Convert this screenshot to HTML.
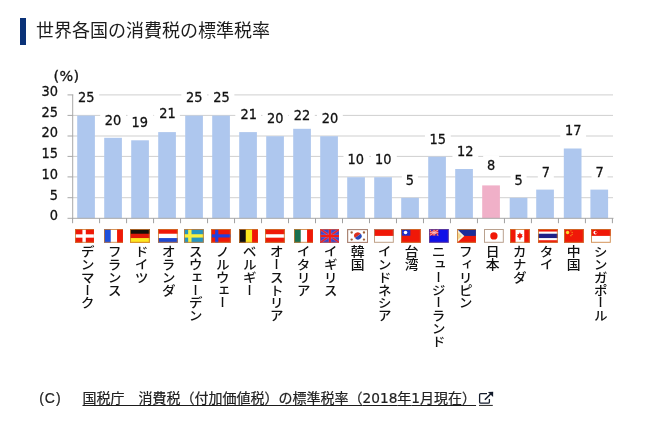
<!DOCTYPE html>
<html lang="ja">
<head>
<meta charset="utf-8">
<title>世界各国の消費税の標準税率</title>
<style>
html,body{margin:0;padding:0;background:#fff;}
body{width:657px;height:426px;position:relative;overflow:hidden;font-family:"Liberation Sans","Noto Sans CJK JP",sans-serif;color:#222;}
.hbar{position:absolute;left:20px;top:18px;width:6px;height:26.6px;background:#0a3278;}
h1{position:absolute;left:36px;top:17.8px;margin:0;font-size:18px;line-height:26px;font-weight:400;color:#1c1c1c;white-space:nowrap;letter-spacing:0;}
.chart{position:absolute;left:0;top:0;width:657px;height:426px;}
.num{position:absolute;font-family:"DejaVu Sans","Liberation Sans",sans-serif;font-size:14.4px;line-height:14px;color:#111;white-space:nowrap;-webkit-text-stroke:0.3px #111;}
.dl.s{padding-left:4px;padding-right:4px;}
.yl{text-align:right;width:30px;transform:scaleX(0.9);transform-origin:100% 50%;}
.dl{text-align:center;background:#fff;padding:2px 5.5px 0.5px;transform:translateX(-50%) scaleX(0.925);}
.fl{position:absolute;display:block;}
.vl{position:absolute;writing-mode:vertical-rl;font-size:12.8px;line-height:14px;width:14px;color:#111;font-weight:500;transform:scaleX(1.08);transform-origin:50% 0;white-space:nowrap;font-family:"Liberation Sans","Noto Sans CJK JP",sans-serif;}
.cap{position:absolute;top:388.3px;font-size:14px;line-height:20px;color:#1c1c1c;white-space:nowrap;-webkit-text-stroke:0.2px #1c1c1c;}
.cap a{color:#222;text-decoration:underline;text-underline-offset:1.6px;text-decoration-thickness:1px;}
.cap .d{font-family:"DejaVu Sans",sans-serif;font-size:13.7px;}
.ext{position:absolute;left:478px;top:390px;width:16px;height:17px;}
</style>
</head>
<body>
<div class="hbar"></div>
<h1>世界各国の消費税の標準税率</h1>

<svg class="chart" viewBox="0 0 657 426"><rect x="73.0" y="94.4" width="540" height="1" fill="#d0d0d0"/><rect x="73.0" y="114.9" width="540" height="1" fill="#d0d0d0"/><rect x="73.0" y="135.5" width="540" height="1" fill="#d0d0d0"/><rect x="73.0" y="155.9" width="540" height="1" fill="#d0d0d0"/><rect x="73.0" y="176.4" width="540" height="1" fill="#d0d0d0"/><rect x="73.0" y="197.2" width="540" height="1" fill="#d0d0d0"/></svg>
<svg class="chart" viewBox="0 0 657 426" font-family="DejaVu Sans, Liberation Sans, sans-serif" font-size="14.4" fill="#111" stroke="#111" stroke-width="0.3" text-anchor="middle"><rect x="73.40" y="87.5" width="25.8" height="17" fill="#fff" stroke="none"/><rect x="100.20" y="110.5" width="25.8" height="17" fill="#fff" stroke="none"/><rect x="127.50" y="112.5" width="25.8" height="17" fill="#fff" stroke="none"/><rect x="154.10" y="103.5" width="25.8" height="17" fill="#fff" stroke="none"/><rect x="181.30" y="87.5" width="25.8" height="17" fill="#fff" stroke="none"/><rect x="208.55" y="87.5" width="25.8" height="17" fill="#fff" stroke="none"/><rect x="235.30" y="104.5" width="25.8" height="17" fill="#fff" stroke="none"/><rect x="262.40" y="108.5" width="25.8" height="17" fill="#fff" stroke="none"/><rect x="289.00" y="105.5" width="25.8" height="17" fill="#fff" stroke="none"/><rect x="317.00" y="108.5" width="25.8" height="17" fill="#fff" stroke="none"/><rect x="343.50" y="149.5" width="25.8" height="17" fill="#fff" stroke="none"/><rect x="371.00" y="149.5" width="25.8" height="17" fill="#fff" stroke="none"/><rect x="401.90" y="170.5" width="16.0" height="17" fill="#fff" stroke="none"/><rect x="424.95" y="129.5" width="25.8" height="17" fill="#fff" stroke="none"/><rect x="452.45" y="141.5" width="25.8" height="17" fill="#fff" stroke="none"/><rect x="483.15" y="155.5" width="16.0" height="17" fill="#fff" stroke="none"/><rect x="510.60" y="170.5" width="16.0" height="17" fill="#fff" stroke="none"/><rect x="537.80" y="162.5" width="16.0" height="17" fill="#fff" stroke="none"/><rect x="560.25" y="120.5" width="25.8" height="17" fill="#fff" stroke="none"/><rect x="591.55" y="162.5" width="16.0" height="17" fill="#fff" stroke="none"/><text transform="translate(86.30,102) scale(0.9,1)">25</text><text transform="translate(113.10,125) scale(0.9,1)">20</text><text transform="translate(139.85,127) scale(0.9,1)">19</text><text transform="translate(167.60,118) scale(0.9,1)">21</text><text transform="translate(194.20,102) scale(0.9,1)">25</text><text transform="translate(221.45,102) scale(0.9,1)">25</text><text transform="translate(248.80,119) scale(0.9,1)">21</text><text transform="translate(275.30,123) scale(0.9,1)">20</text><text transform="translate(301.90,120) scale(0.9,1)">22</text><text transform="translate(329.90,123) scale(0.9,1)">20</text><text transform="translate(355.85,164) scale(0.9,1)">10</text><text transform="translate(383.35,164) scale(0.9,1)">10</text><text transform="translate(409.90,185) scale(0.9,1)">5</text><text transform="translate(437.85,144) scale(0.9,1)">15</text><text transform="translate(465.35,156) scale(0.9,1)">12</text><text transform="translate(491.15,170) scale(0.9,1)">8</text><text transform="translate(518.60,185) scale(0.9,1)">5</text><text transform="translate(545.80,177) scale(0.9,1)">7</text><text transform="translate(573.15,135) scale(0.9,1)">17</text><text transform="translate(599.55,177) scale(0.9,1)">7</text></svg>
<svg class="chart" viewBox="0 0 657 426"><rect x="77.2" y="115.6" width="17.7" height="102.7" fill="#aec7ee"/><rect x="104.2" y="137.8" width="17.7" height="80.5" fill="#aec7ee"/><rect x="131.2" y="140.3" width="17.7" height="78.0" fill="#aec7ee"/><rect x="158.2" y="132.1" width="17.7" height="86.2" fill="#aec7ee"/><rect x="185.2" y="115.6" width="17.7" height="102.7" fill="#aec7ee"/><rect x="212.2" y="115.6" width="17.7" height="102.7" fill="#aec7ee"/><rect x="239.2" y="132.1" width="17.7" height="86.2" fill="#aec7ee"/><rect x="266.2" y="136.2" width="17.7" height="82.1" fill="#aec7ee"/><rect x="293.2" y="128.8" width="17.7" height="89.5" fill="#aec7ee"/><rect x="320.2" y="136.2" width="17.7" height="82.1" fill="#aec7ee"/><rect x="347.2" y="177.2" width="17.7" height="41.1" fill="#aec7ee"/><rect x="374.2" y="177.2" width="17.7" height="41.1" fill="#aec7ee"/><rect x="401.2" y="197.8" width="17.7" height="20.5" fill="#aec7ee"/><rect x="428.2" y="156.7" width="17.7" height="61.6" fill="#aec7ee"/><rect x="455.2" y="169.0" width="17.7" height="49.3" fill="#aec7ee"/><rect x="482.2" y="185.4" width="17.7" height="32.9" fill="#f0b0c8"/><rect x="509.7" y="197.8" width="17.7" height="20.5" fill="#aec7ee"/><rect x="536.2" y="189.6" width="17.7" height="28.7" fill="#aec7ee"/><rect x="563.8" y="148.5" width="17.7" height="69.8" fill="#aec7ee"/><rect x="590.4" y="189.6" width="17.7" height="28.7" fill="#aec7ee"/><rect x="72.2" y="94.6" width="1" height="124.20000000000002" fill="#a8a8a8"/><rect x="72.5" y="217.8" width="541" height="1" fill="#a8a8a8"/><rect x="67.5" y="94.4" width="5.5" height="1" fill="#a8a8a8"/><rect x="67.5" y="114.9" width="5.5" height="1" fill="#a8a8a8"/><rect x="67.5" y="135.5" width="5.5" height="1" fill="#a8a8a8"/><rect x="67.5" y="155.9" width="5.5" height="1" fill="#a8a8a8"/><rect x="67.5" y="176.4" width="5.5" height="1" fill="#a8a8a8"/><rect x="67.5" y="197.2" width="5.5" height="1" fill="#a8a8a8"/><rect x="67.5" y="217.8" width="5.5" height="1" fill="#a8a8a8"/><rect x="72.10" y="218.3" width="1" height="4.9" fill="#a0a0a0"/><rect x="99.09" y="218.3" width="1" height="4.9" fill="#a0a0a0"/><rect x="126.08" y="218.3" width="1" height="4.9" fill="#a0a0a0"/><rect x="153.07" y="218.3" width="1" height="4.9" fill="#a0a0a0"/><rect x="180.06" y="218.3" width="1" height="4.9" fill="#a0a0a0"/><rect x="207.05" y="218.3" width="1" height="4.9" fill="#a0a0a0"/><rect x="234.04" y="218.3" width="1" height="4.9" fill="#a0a0a0"/><rect x="261.03" y="218.3" width="1" height="4.9" fill="#a0a0a0"/><rect x="288.02" y="218.3" width="1" height="4.9" fill="#a0a0a0"/><rect x="315.01" y="218.3" width="1" height="4.9" fill="#a0a0a0"/><rect x="342.00" y="218.3" width="1" height="4.9" fill="#a0a0a0"/><rect x="368.99" y="218.3" width="1" height="4.9" fill="#a0a0a0"/><rect x="395.98" y="218.3" width="1" height="4.9" fill="#a0a0a0"/><rect x="422.97" y="218.3" width="1" height="4.9" fill="#a0a0a0"/><rect x="449.96" y="218.3" width="1" height="4.9" fill="#a0a0a0"/><rect x="476.95" y="218.3" width="1" height="4.9" fill="#a0a0a0"/><rect x="503.94" y="218.3" width="1" height="4.9" fill="#a0a0a0"/><rect x="530.93" y="218.3" width="1" height="4.9" fill="#a0a0a0"/><rect x="557.92" y="218.3" width="1" height="4.9" fill="#a0a0a0"/><rect x="584.91" y="218.3" width="1" height="4.9" fill="#a0a0a0"/><rect x="611.90" y="218.3" width="1" height="4.9" fill="#a0a0a0"/></svg>
<div class="num yl" style="left:27.6px;top:83.80px">30</div>
<div class="num yl" style="left:27.6px;top:104.56px">25</div>
<div class="num yl" style="left:27.6px;top:125.32px">20</div>
<div class="num yl" style="left:27.6px;top:146.08px">15</div>
<div class="num yl" style="left:27.6px;top:166.84px">10</div>
<div class="num yl" style="left:27.6px;top:187.60px">5</div>
<div class="num yl" style="left:27.6px;top:208.36px">0</div>
<div class="num" style="left:53.5px;top:69.2px;letter-spacing:0.3px">(%)</div>
<svg class="fl" style="left:74.7px;top:229.0px;width:19.8px;height:13.8px" viewBox="0 0 20 14" preserveAspectRatio="none"><rect width="20" height="14" fill="#f01808"/><rect x="7.5" y="0" width="3.4" height="14" fill="#fff"/><rect x="0" y="5.4" width="20" height="3.4" fill="#fff"/><rect x="0.5" y="0.5" width="19" height="13" fill="none" stroke="#c8782e" stroke-width="1" opacity="0.8"/></svg>
<svg class="fl" style="left:103.5px;top:229.0px;width:19.8px;height:13.8px" viewBox="0 0 20 14" preserveAspectRatio="none"><rect width="20" height="14" fill="#fff"/><rect width="6.8" height="14" fill="#1e50dc"/><rect x="13.2" width="6.8" height="14" fill="#f01808"/><rect x="0.5" y="0.5" width="19" height="13" fill="none" stroke="#c8782e" stroke-width="1" opacity="0.8"/></svg>
<svg class="fl" style="left:130.10000000000002px;top:229.0px;width:19.8px;height:13.8px" viewBox="0 0 20 14" preserveAspectRatio="none"><rect width="20" height="14" fill="#e01808"/><rect width="20" height="4.8" fill="#181008"/><rect y="9.2" width="20" height="4.8" fill="#ffe820"/><rect x="0.5" y="0.5" width="19" height="13" fill="none" stroke="#c8782e" stroke-width="1" opacity="0.8"/></svg>
<svg class="fl" style="left:158.10000000000002px;top:229.0px;width:19.8px;height:13.8px" viewBox="0 0 20 14" preserveAspectRatio="none"><rect width="20" height="14" fill="#fff"/><rect width="20" height="4.8" fill="#f01808"/><rect y="9.2" width="20" height="4.8" fill="#2048d0"/><rect x="0.5" y="0.5" width="19" height="13" fill="none" stroke="#c8782e" stroke-width="1" opacity="0.8"/></svg>
<svg class="fl" style="left:183.9px;top:229.0px;width:19.8px;height:13.8px" viewBox="0 0 20 14" preserveAspectRatio="none"><rect width="20" height="14" fill="#2896c0"/><rect x="4.2" width="3.4" height="14" fill="#f8f040"/><rect y="5.3" width="20" height="3.4" fill="#f8f040"/><rect x="0.5" y="0.5" width="19" height="13" fill="none" stroke="#c8782e" stroke-width="1" opacity="0.8"/></svg>
<svg class="fl" style="left:211.10000000000002px;top:229.0px;width:19.8px;height:13.8px" viewBox="0 0 20 14" preserveAspectRatio="none"><rect width="20" height="14" fill="#f01808"/><rect x="4.2" width="3.2" height="14" fill="#2040e0"/><rect y="5.4" width="20" height="3.2" fill="#2040e0"/><rect x="0.5" y="0.5" width="19" height="13" fill="none" stroke="#c8782e" stroke-width="1" opacity="0.8"/></svg>
<svg class="fl" style="left:238.5px;top:229.0px;width:19.8px;height:13.8px" viewBox="0 0 20 14" preserveAspectRatio="none"><rect width="20" height="14" fill="#f8e820"/><rect width="6.8" height="14" fill="#101010"/><rect x="13.2" width="6.8" height="14" fill="#f01808"/><rect x="0.5" y="0.5" width="19" height="13" fill="none" stroke="#c8782e" stroke-width="1" opacity="0.8"/></svg>
<svg class="fl" style="left:265.3px;top:229.0px;width:19.8px;height:13.8px" viewBox="0 0 20 14" preserveAspectRatio="none"><rect width="20" height="14" fill="#f01808"/><rect y="5.3" width="20" height="3.5" fill="#fff"/><rect x="0.5" y="0.5" width="19" height="13" fill="none" stroke="#c8782e" stroke-width="1" opacity="0.8"/></svg>
<svg class="fl" style="left:293.5px;top:229.0px;width:19.8px;height:13.8px" viewBox="0 0 20 14" preserveAspectRatio="none"><rect width="20" height="14" fill="#fff"/><rect width="6.8" height="14" fill="#187050"/><rect x="13.2" width="6.8" height="14" fill="#f01808"/><rect x="0.5" y="0.5" width="19" height="13" fill="none" stroke="#c8782e" stroke-width="1" opacity="0.8"/></svg>
<svg class="fl" style="left:319.59999999999997px;top:229.0px;width:19.8px;height:13.8px" viewBox="0 0 20 14" preserveAspectRatio="none"><rect width="20" height="14" fill="#3c48c8"/><path d="M0 0L20 14M20 0L0 14" stroke="#c070b0" stroke-width="2.6" opacity="0.55"/><path d="M0 0L20 14M20 0L0 14" stroke="#f02020" stroke-width="1.4"/><path d="M10 0V14M0 7H20" stroke="#d080b0" stroke-width="3" opacity="0.45"/><path d="M10 0V14M0 7H20" stroke="#f41c14" stroke-width="2"/><rect x="0.5" y="0.5" width="19" height="13" fill="none" stroke="#d05040" stroke-width="1" opacity="0.8"/></svg>
<svg class="fl" style="left:346.75px;top:228.9px;width:21.2px;height:14.0px" viewBox="0 0 20 14" preserveAspectRatio="none"><rect width="20" height="14" fill="#fff"/><path d="M6.8 7A3.5 3.6 0 0 1 13.8 7Z" fill="#dc3020" transform="rotate(-38 10.2 7)"/><path d="M6.8 7A3.5 3.6 0 0 0 13.8 7Z" fill="#2848b8" transform="rotate(-38 10.2 7)"/><g fill="#a06038"><circle cx="4.4" cy="3.5" r="1.15"/><circle cx="16" cy="3.5" r="1.15"/><circle cx="4.4" cy="10.6" r="1.15"/><circle cx="16" cy="10.6" r="1.15"/></g><rect x="0.6" y="0.6" width="18.8" height="12.8" fill="none" stroke="#a88070" stroke-width="1.1"/></svg>
<svg class="fl" style="left:374.2px;top:229.0px;width:19.8px;height:13.8px" viewBox="0 0 20 14" preserveAspectRatio="none"><rect width="20" height="14" fill="#fff"/><rect width="20" height="7" fill="#f01808"/><rect x="0.5" y="0.5" width="19" height="13" fill="none" stroke="#b08868" stroke-width="1" opacity="0.8"/></svg>
<svg class="fl" style="left:400.8px;top:229.0px;width:19.8px;height:13.8px" viewBox="0 0 20 14" preserveAspectRatio="none"><rect width="20" height="14" fill="#f01808"/><rect width="9.4" height="6.8" fill="#2030c8"/><circle cx="4.6" cy="3.5" r="1.8" fill="#fff"/><rect x="0.5" y="0.5" width="19" height="13" fill="none" stroke="#c8782e" stroke-width="1" opacity="0.8"/></svg>
<svg class="fl" style="left:429.2px;top:229.0px;width:19.8px;height:13.8px" viewBox="0 0 20 14" preserveAspectRatio="none"><rect width="20" height="14" fill="#1010e8"/><rect x="0.8" y="0.8" width="8.6" height="5.8" fill="#e83030"/><path d="M0.8 0.8L9.4 6.6M9.4 0.8L0.8 6.6" stroke="#f8a8b0" stroke-width="1"/><path d="M5.1 0.8V6.6M0.8 3.7H9.4" stroke="#f8c0c8" stroke-width="0.9"/><path d="M2.9 0.8V2.2M7.3 5.2V6.6" stroke="#3030d0" stroke-width="1.6"/><rect x="0.5" y="0.5" width="19" height="13" fill="none" stroke="#b06848" stroke-width="1" opacity="0.45"/></svg>
<svg class="fl" style="left:456.7px;top:229.0px;width:19.8px;height:13.8px" viewBox="0 0 20 14" preserveAspectRatio="none"><rect width="20" height="14" fill="#f01808"/><rect width="20" height="7" fill="#1c2c98"/><path d="M0 0L7.4 7L0 14Z" fill="#f8f0d8"/><path d="M1 3.4L5 7L1 10.6Z" fill="#f4d890"/><rect x="0.5" y="0.5" width="19" height="13" fill="none" stroke="#c8782e" stroke-width="1" opacity="0.8"/></svg>
<svg class="fl" style="left:483.8px;top:229.0px;width:19.8px;height:13.8px" viewBox="0 0 20 14" preserveAspectRatio="none"><rect width="20" height="14" fill="#fff"/><circle cx="10" cy="7" r="3.7" fill="#f01808"/><rect x="0.5" y="0.5" width="19" height="13" fill="none" stroke="#a88870" stroke-width="1" opacity="0.8"/></svg>
<svg class="fl" style="left:510.0px;top:229.0px;width:19.8px;height:13.8px" viewBox="0 0 20 14" preserveAspectRatio="none"><rect width="20" height="14" fill="#fff"/><rect width="5.6" height="14" fill="#f01808"/><rect x="14.4" width="5.6" height="14" fill="#f01808"/><path d="M10 3.2L11 5.4L12.6 5L12 7L13 7.8L10.6 9.2L10.4 11H9.6L9.4 9.2L7 7.8L8 7L7.4 5L9 5.4Z" fill="#f01808"/><rect x="0.5" y="0.5" width="19" height="13" fill="none" stroke="#c8782e" stroke-width="1" opacity="0.8"/></svg>
<svg class="fl" style="left:538.0px;top:229.0px;width:19.8px;height:13.8px" viewBox="0 0 20 14" preserveAspectRatio="none"><rect width="20" height="14" fill="#f01808"/><rect y="2.6" width="20" height="8.8" fill="#fff"/><rect y="4.8" width="20" height="4.4" fill="#202088"/><rect x="0.5" y="0.5" width="19" height="13" fill="none" stroke="#c8782e" stroke-width="1" opacity="0.8"/></svg>
<svg class="fl" style="left:564.4px;top:229.0px;width:19.8px;height:13.8px" viewBox="0 0 20 14" preserveAspectRatio="none"><rect width="20" height="14" fill="#f01808"/><circle cx="3.6" cy="3.6" r="1.7" fill="#f8d830"/><circle cx="7" cy="1.8" r="0.6" fill="#f8b020"/><circle cx="8.2" cy="3.4" r="0.6" fill="#f8b020"/><circle cx="8.2" cy="5.4" r="0.6" fill="#f8b020"/><circle cx="7" cy="6.8" r="0.6" fill="#f8b020"/><rect x="0.5" y="0.5" width="19" height="13" fill="none" stroke="#c8782e" stroke-width="1" opacity="0.8"/></svg>
<svg class="fl" style="left:591.4px;top:229.0px;width:19.8px;height:13.8px" viewBox="0 0 20 14" preserveAspectRatio="none"><rect width="20" height="14" fill="#fff"/><rect width="20" height="7" fill="#f01808"/><circle cx="4.4" cy="3.6" r="1.9" fill="#fff"/><circle cx="5.2" cy="3.6" r="1.2" fill="#f01808"/><rect x="0.5" y="0.5" width="19" height="13" fill="none" stroke="#c8782e" stroke-width="1" opacity="0.8"/></svg>
<div class="vl" style="left:79.0px;top:245.3px">デンマーク</div>
<div class="vl" style="left:106.0px;top:245.3px">フランス</div>
<div class="vl" style="left:133.0px;top:245.3px">ドイツ</div>
<div class="vl" style="left:160.0px;top:245.3px">オランダ</div>
<div class="vl" style="left:187.0px;top:245.3px">スウェーデン</div>
<div class="vl" style="left:214.0px;top:245.3px">ノルウェー</div>
<div class="vl" style="left:241.0px;top:245.3px">ベルギー</div>
<div class="vl" style="left:268.0px;top:245.3px">オーストリア</div>
<div class="vl" style="left:295.0px;top:245.3px">イタリア</div>
<div class="vl" style="left:322.0px;top:245.3px">イギリス</div>
<div class="vl" style="left:349.0px;top:245.3px">韓国</div>
<div class="vl" style="left:376.0px;top:245.3px">インドネシア</div>
<div class="vl" style="left:403.0px;top:245.3px">台湾</div>
<div class="vl" style="left:430.0px;top:245.3px">ニュージーランド</div>
<div class="vl" style="left:457.0px;top:245.3px">フィリピン</div>
<div class="vl" style="left:484.0px;top:245.3px">日本</div>
<div class="vl" style="left:511.0px;top:245.3px">カナダ</div>
<div class="vl" style="left:538.0px;top:245.3px">タイ</div>
<div class="vl" style="left:565.0px;top:245.3px">中国</div>
<div class="vl" style="left:592.0px;top:245.3px">シンガポール</div>
<div class="cap" style="left:39.2px;letter-spacing:1px">(C)</div>
<div class="cap" style="left:82.5px"><a>国税庁　消費税（付加価値税）の標準税率（<span class="d">2018</span>年<span class="d">1</span>月現在）</a></div>
<svg class="ext" viewBox="0 0 16 17"><path d="M9 3.6H2.8Q1.6 3.6 1.6 4.8V11.9Q1.6 13.1 2.8 13.1H10.2Q11.4 13.1 11.4 11.9V9" fill="none" stroke="#141c2c" stroke-width="1.3"/><path d="M6.9 9.8L13.4 3.3" stroke="#141c2c" stroke-width="1.6" fill="none"/><path d="M15.2 1.8L9.9 1.9L15.1 7.1Z" fill="#141c2c"/><rect x="1" y="14.9" width="13.8" height="1" fill="#222"/></svg>
</body></html>
